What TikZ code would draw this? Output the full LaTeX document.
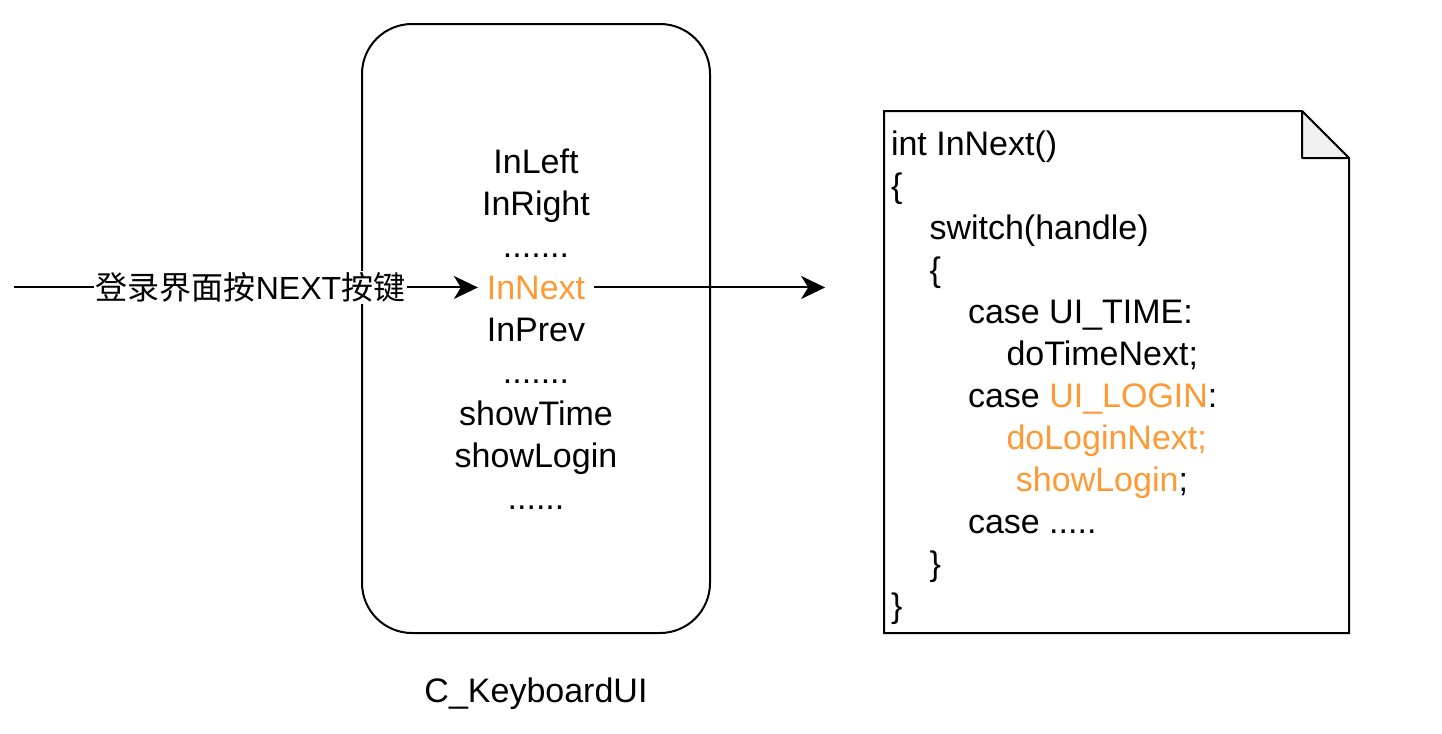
\documentclass[tikz,border=0pt]{standalone}
\usepackage{fontspec}
\setmainfont{Liberation Sans}
\newfontfamily\cjk{Noto Sans CJK SC}
\usepackage{tikz}
\usetikzlibrary{arrows.meta,positioning}
\definecolor{orangecode}{RGB}{255,153,51}
\definecolor{pli}{RGB}{240,240,240}

\begin{document}
\begin{tikzpicture}[x=0.5pt, y=-0.5pt, line width=1pt,
  font=\fontsize{17}{21}\selectfont,
  txt/.style={inner sep=0pt, anchor=base},
  fleche/.style={-{Stealth[length=12pt, width=11.5pt, inset=3.5pt]}}]
\useasboundingbox (0,0) rectangle (1442,734);
% boite clavier
\node[draw, rounded corners=25pt, minimum width=174pt, minimum height=304.5pt] (kbd) at (536,328.5) {};
\foreach \nom/\txt/\i in {left/InLeft/0, right/InRight/1, dotsa/{.......}/2, prev/InPrev/4, dotsb/{.......}/5, time/showTime/6, login/showLogin/7, dotsc/{......}/8}
  \node[txt] (\nom) at (536, 173+42*\i) {\txt};
\node[txt, text=orangecode, inner sep=4pt] (next) at (536,299) {InNext};
\node[txt] (nom) at (536,702) {C\_KeyboardUI};
% fleches
\path (next.west) ++(-464,0) coordinate (src);
\path (next.east) ++(231,0) coordinate (dst);
\draw[fleche] (src) -- node[pos=0.51, fill=white, inner sep=1pt, font=\fontsize{16}{19}\selectfont] (lbl) {{\cjk 登录界面按}NEXT{\cjk 按键}} (next.west);
\draw[fleche] (next.east) -- (dst);
% note
\draw[fill=white] (884,111) -- (1302,111) -- (1349,158) -- (1349,633) -- (884,633) -- cycle;
\draw[fill=pli, line join=round] (1302,111) -- (1302,158) -- (1349,158) -- cycle;
\foreach \i/\ind/\txt in {0/0/{int InNext()}, 1/0/{\{}, 2/1/{switch(handle)}, 3/1/{\{}, 4/2/{case UI\_TIME:}, 5/3/{doTimeNext;}, 6/2/{case \textcolor{orangecode}{UI\_LOGIN}:}, 7/3/{\textcolor{orangecode}{doLoginNext;}}, 8/3/{\ \textcolor{orangecode}{showLogin};}, 9/2/{case .....}, 10/1/{\}}, 11/0/{\}}}
  \node[txt, anchor=base west] (code\i) at (890+38.5*\ind, 155+42*\i) {\txt};
\end{tikzpicture}
\end{document}
